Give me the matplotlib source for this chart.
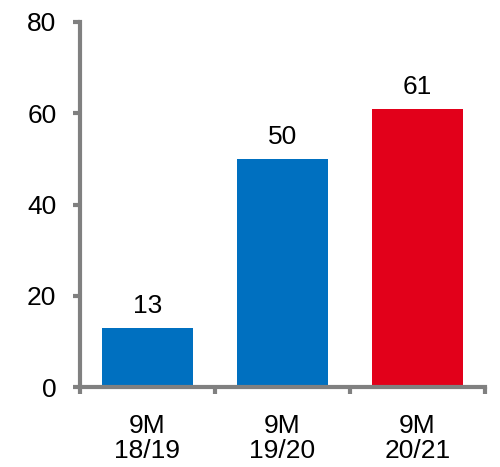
import matplotlib
matplotlib.use("Agg")
import matplotlib.pyplot as plt
from matplotlib.ticker import FixedLocator

plt.rcParams['font.family'] = ['Liberation Sans', 'DejaVu Sans']

periods = ['9M\n18/19', '9M\n19/20', '9M\n20/21']
values = [13, 50, 61]
colors = ['#0070C0', '#0070C0', '#E2001A']

grey = '#808080'

fig = plt.figure(figsize=(5.0, 4.67), dpi=100)
ax = fig.add_axes([0.16, 0.171, 0.81, 0.782])

x = list(range(len(periods)))
bars = ax.bar(x, values, width=0.68, color=colors)

for b, v in zip(bars, values):
    ax.annotate(str(v), (b.get_x() + b.get_width() / 2, v),
                xytext=(0, 7), textcoords='offset points',
                ha='center', va='bottom', fontsize=19, color='black')

ax.set_xlim(-0.5, len(periods) - 0.5)
ax.set_ylim(0, 80)
ax.set_yticks(range(0, 81, 20))

ax.set_xticks(x)
ax.set_xticklabels(periods, fontsize=19, linespacing=1.1)
ax.xaxis.set_minor_locator(FixedLocator([i - 0.5 for i in range(len(periods) + 1)]))
ax.tick_params(axis='x', which='major', length=0, pad=19)
ax.tick_params(axis='x', which='minor', length=5, width=3, color=grey)
ax.tick_params(axis='y', length=5, width=3, color=grey, pad=12, labelsize=19)

for side in ['top', 'right']:
    ax.spines[side].set_visible(False)
for side in ['left', 'bottom']:
    ax.spines[side].set_color(grey)
    ax.spines[side].set_linewidth(3)

fig.savefig('out.png', dpi=100)
